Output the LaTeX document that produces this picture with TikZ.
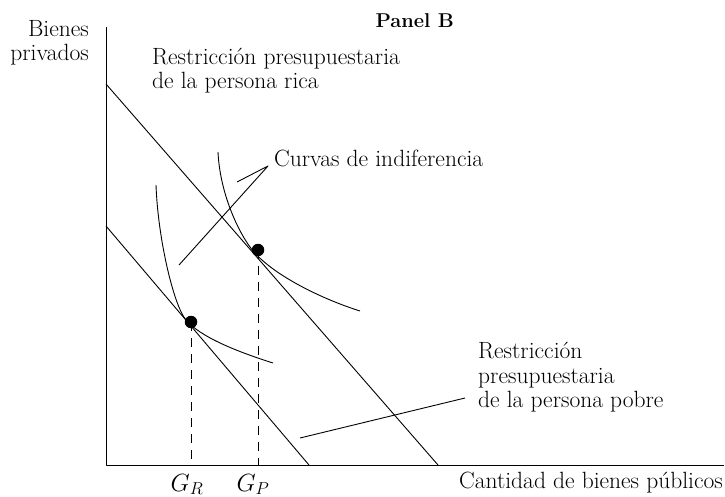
\documentclass[tikz,border=0pt]{standalone}
\usepackage{tikz}
\begin{document}
\begin{tikzpicture}[x=1pt,y=-1pt,
  lbl/.style={inner sep=0pt, font=\fontsize{23.5}{25}\selectfont},
  thinline/.style={line width=0.9pt, line join=round},
  dotnode/.style={circle, fill=black, draw=none, inner sep=0pt, minimum size=12.5pt},
  dashline/.style={line width=0.9pt, dash pattern=on 9pt off 7pt}]
\useasboundingbox (0,0) rectangle (725,497);
% axes
\coordinate (O) at (106,465);
\coordinate (Ytop) at (106,27);
\coordinate (Xend) at (724,465);
\draw[thinline] (Ytop) -- (O) -- (Xend);
% budget lines
\coordinate (R0) at (106,84);
\coordinate (R1) at (438,465);
\coordinate (P0) at (106,226);
\coordinate (P1) at (309,465);
\draw[thinline] (R0) -- (R1);
\draw[thinline] (P0) -- (P1);
% indifference curves
\coordinate (UA) at (218,152);
\coordinate (UT) at (254,252);
\coordinate (UB) at (360,311);
\draw[thinline] (UA) .. controls (220,195) and (240,236) .. (UT)
  .. controls (275,276) and (322,299) .. (UB);
\coordinate (LA) at (156,185);
\coordinate (LT) at (186,320);
\coordinate (LB) at (273,363);
\draw[thinline] (LA) .. controls (158,240) and (174,306) .. (LT)
  .. controls (200,336.5) and (235,351) .. (LB);
% equilibrium points
\node[dotnode] (dr) at (258,250) {};
\node[dotnode] (dp) at (191,322) {};
\draw[dashline] (dr.center) -- (dr.center |- O);
\draw[dashline] (dp.center) -- (dp.center |- O);
% pointer lines
\coordinate (cA) at (268,166);
\coordinate (cB) at (237,182);
\coordinate (cC) at (179,265);
\draw[thinline] (cB) -- (cA) -- (cC);
\coordinate (pA) at (300,438);
\coordinate (pB) at (465,398);
\draw[thinline] (pA) -- (pB);
% labels
\node[lbl, anchor=base east] (yl1) at (89,37) {Bienes};
\node[lbl, anchor=base east] (yl2) at (89,61) {privados};
\node[lbl, font=\fontsize{20}{23}\selectfont\bfseries, anchor=base east] (panel) at (454,28) {Panel B};
\node[lbl, anchor=base west] (rica1) at (152,65) {Restricción presupuestaria};
\node[lbl, anchor=base west] (rica2) at (152,89) {de la persona rica};
\node[lbl, anchor=base west] (curv) at (274,167) {Curvas de indiferencia};
\node[lbl, anchor=base west] (pob1) at (478,358) {Restricción};
\node[lbl, anchor=base west] (pob2) at (478,383) {presupuestaria};
\node[lbl, anchor=base west] (pob3) at (478,407) {de la persona pobre};
\node[lbl, anchor=base east] (xl) at (723,488) {Cantidad de bienes públicos};
\node[lbl, anchor=base] (gr) at (187,491) {$G_R$};
\node[lbl, anchor=base] (gp) at (253,491) {$G_P$};
\end{tikzpicture}
\end{document}
